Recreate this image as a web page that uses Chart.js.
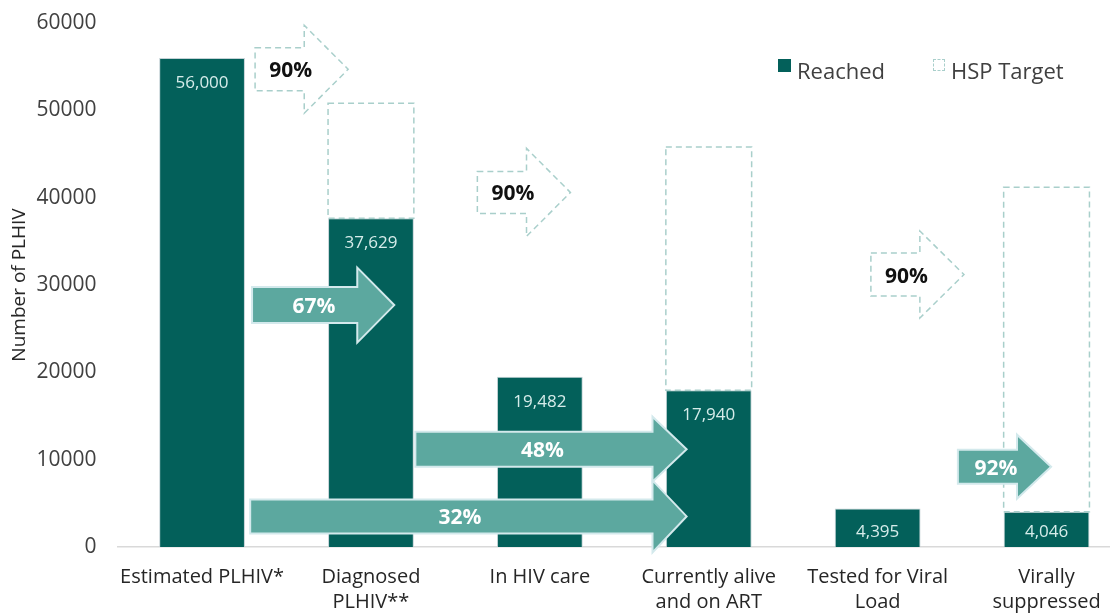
<!DOCTYPE html>
<html lang="en">
<head>
  <meta charset="UTF-8">
  <title>HIV Cascade</title>
  <script src="https://cdn.jsdelivr.net/npm/chart.js"></script>
  <style>
    html, body { margin: 0; padding: 0; background: #fff; overflow: hidden; }
    #wrap { position: relative; width: 1131px; height: 614px; }
    .legend {
      position: absolute; top: 55px; left: 778px;
      font-family: 'Open Sans', sans-serif; font-size: 22px; color: #404040;
      display: flex; align-items: center; white-space: nowrap;
    }
    .legend .sw { width: 13px; height: 13px; display: inline-block; margin-right: 6px; position: relative; top: -5px; }
    .legend .solid { background: #03605a; }
    .legend .dash { border: 1.5px dashed #a9cfcb; width: 10px; height: 10px; }
    .legend .item { display: flex; align-items: center; }
  </style>
</head>
<body>
  <div id="wrap">
    <canvas id="chart"></canvas>
    <div class="legend">
      <span class="item"><span class="sw solid"></span>Reached</span>
      <span class="item" style="margin-left:48px"><span class="sw dash"></span>HSP Target</span>
    </div>
  </div>

  <script>
    // data
    const categories = [
      ['Estimated PLHIV*'],
      ['Diagnosed', 'PLHIV**'],
      ['In HIV care'],
      ['Currently alive', 'and on ART'],
      ['Tested for Viral', 'Load'],
      ['Virally', 'suppressed']
    ];
    const reached = [56000, 37629, 19482, 17940, 4395, 4046];
    const hspTarget = [null, 50800, null, 45800, null, 41200];
    const yMax = 60000;
    const yStep = 10000;

    // annotation arrows (x in category units, y in data units)
    const arrows = [
      { label: '90%', dashed: true,  x0: 0.314, xh: 0.605, x1: 0.865, y: 54700, shaft: 43, head: 88 },
      { label: '67%', dashed: false, x0: 0.296, xh: 0.919, x1: 1.138, y: 27700, shaft: 36, head: 75 },
      { label: '90%', dashed: true,  x0: 1.630, xh: 1.921, x1: 2.181, y: 40600, shaft: 42, head: 88 },
      { label: '48%', dashed: false, x0: 1.263, xh: 2.667, x1: 2.869, y: 11200, shaft: 35, head: 65 },
      { label: '32%', dashed: false, x0: 0.285, xh: 2.667, x1: 2.869, y: 3500,  shaft: 34, head: 72 },
      { label: '90%', dashed: true,  x0: 3.960, xh: 4.250, x1: 4.511, y: 31200, shaft: 43, head: 87 },
      { label: '92%', dashed: false, x0: 4.475, xh: 4.825, x1: 5.027, y: 9200,  shaft: 34, head: 64 }
    ];

    const remainder = hspTarget.map((t, i) => t == null ? null : t - reached[i]);

    const barColor = '#03605a';
    const dashColor = '#a9cfcb';
    const arrowFill = '#5ca89f';

    const cascadePlugin = {
      id: 'cascade',
      afterDatasetsDraw(chart) {
        const ctx = chart.ctx;
        const xs = chart.scales.x, ys = chart.scales.y;

        // dashed target boxes
        const tMeta = chart.getDatasetMeta(1);
        ctx.save();
        ctx.strokeStyle = dashColor;
        ctx.lineWidth = 1.5;
        ctx.setLineDash([6, 4]);
        tMeta.data.forEach((el, i) => {
          if (remainder[i] == null) return;
          const p = el.getProps(['x', 'y', 'base', 'width'], true);
          ctx.strokeRect(p.x - p.width / 2, p.y, p.width, p.base - p.y);
        });
        ctx.restore();

        // value labels inside bars
        const rMeta = chart.getDatasetMeta(0);
        ctx.save();
        ctx.fillStyle = '#d6ecea';
        ctx.font = '17px "Open Sans", sans-serif';
        ctx.textAlign = 'center';
        ctx.textBaseline = 'middle';
        rMeta.data.forEach((el, i) => {
          const p = el.getProps(['x', 'y', 'base'], true);
          const ty = Math.min(p.y + 25, p.base - 15);
          ctx.fillText(reached[i].toLocaleString('en-US'), p.x, ty);
        });
        ctx.restore();

        // arrows
        arrows.forEach(a => {
          const x0 = xs.getPixelForValue(a.x0);
          const xh = xs.getPixelForValue(a.xh);
          const x1 = xs.getPixelForValue(a.x1);
          const yc = ys.getPixelForValue(a.y);
          const sh = a.shaft / 2, hh = a.head / 2;
          ctx.save();
          ctx.beginPath();
          ctx.moveTo(x0, yc - sh);
          ctx.lineTo(xh, yc - sh);
          ctx.lineTo(xh, yc - hh);
          ctx.lineTo(x1, yc);
          ctx.lineTo(xh, yc + hh);
          ctx.lineTo(xh, yc + sh);
          ctx.lineTo(x0, yc + sh);
          ctx.closePath();
          if (a.dashed) {
            ctx.strokeStyle = dashColor;
            ctx.lineWidth = 1.5;
            ctx.setLineDash([6, 4]);
            ctx.stroke();
          } else {
            ctx.fillStyle = arrowFill;
            ctx.fill();
            ctx.strokeStyle = '#d3e9ec';
            ctx.lineWidth = 2;
            ctx.stroke();
          }
          ctx.setLineDash([]);
          ctx.fillStyle = a.dashed ? '#111' : '#fff';
          ctx.font = 'bold 21px "Open Sans", sans-serif';
          ctx.textAlign = 'center';
          ctx.textBaseline = 'middle';
          const tx = ((x0 + xh) / 2 + (x0 + x1) / 2) / 2;
          ctx.fillText(a.label, tx, yc + 2);
          ctx.restore();
        });
      }
    };

    new Chart(document.getElementById('chart'), {
      type: 'bar',
      data: {
        labels: categories,
        datasets: [
          {
            label: 'Reached',
            data: reached,
            backgroundColor: barColor,
            borderColor: 'rgba(190,205,210,0.9)',
            borderWidth: 1,
            barPercentage: 1,
            categoryPercentage: 0.508
          },
          {
            label: 'HSP Target',
            data: remainder,
            backgroundColor: 'rgba(0,0,0,0)',
            borderWidth: 0,
            barPercentage: 1,
            categoryPercentage: 0.508
          }
        ]
      },
      options: {
        responsive: true,
        maintainAspectRatio: false,
        animation: false,
        layout: { padding: { top: 23, right: 0, left: 0, bottom: 0 } },
        plugins: { legend: { display: false }, tooltip: { enabled: false } },
        scales: {
          x: {
            stacked: true,
            grid: { display: false, drawTicks: false },
            border: { display: true, color: '#d9d9d9', width: 1.5 },
            ticks: {
              color: '#262626',
              font: { family: 'Open Sans', size: 20, lineHeight: 1.25 },
              padding: 18,
              maxRotation: 0,
              autoSkip: false
            },
            afterFit(scale) { scale.height = 67; }
          },
          y: {
            stacked: true,
            min: 0,
            max: yMax,
            grid: { display: false, drawTicks: false },
            border: { display: false },
            ticks: {
              stepSize: yStep,
              color: '#404040',
              font: { family: 'Open Sans', size: 21 },
              padding: 21,
              callback: v => String(v)
            },
            title: {
              display: true,
              text: 'Number of PLHIV',
              color: '#262626',
              font: { family: 'Open Sans', size: 19 },
              padding: { top: 8, bottom: 0 }
            },
            afterFit(scale) {
              scale.width = 117.6;
              scale.paddingTop = 0;
              scale.paddingBottom = 0;
            }
          }
        }
      },
      plugins: [cascadePlugin]
    });
  </script>
</body>
</html>
